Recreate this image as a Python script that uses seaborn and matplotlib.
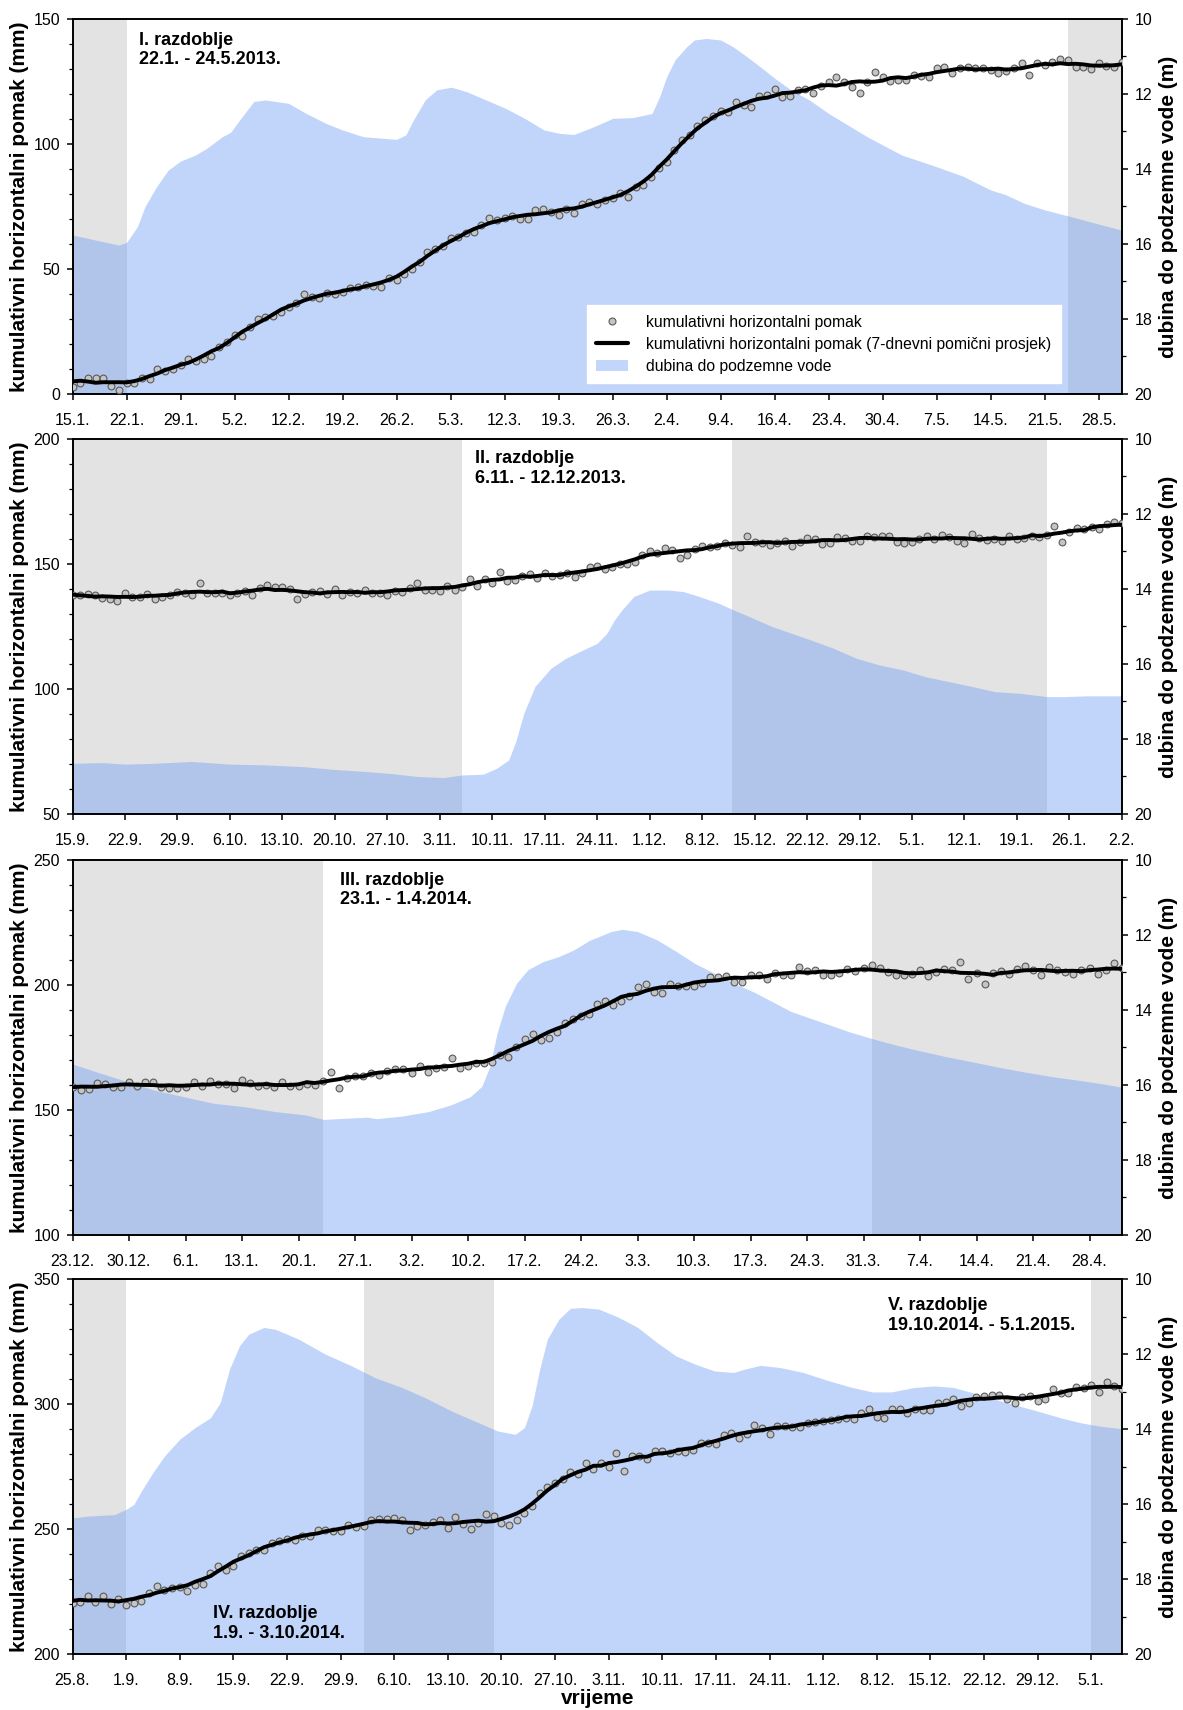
import numpy as np
import pandas as pd
import matplotlib
matplotlib.use("Agg")
import matplotlib.pyplot as plt
import seaborn as sns
from matplotlib.ticker import MultipleLocator
from matplotlib.lines import Line2D
from matplotlib.patches import Patch

sns.set_theme(style="ticks", rc={
    "axes.edgecolor": "black",
    "xtick.color": "black",
    "ytick.color": "black",
    "text.color": "black",
    "axes.labelcolor": "black",
})
plt.rcParams['font.family'] = ['Liberation Sans', 'DejaVu Sans']

PLAVA = '#719df3'
SIVA = '#e3e3e3'

# ---------------- I. razdoblje ----------------
p1_pocetak = "2013-01-15"
p1_kraj = "2013-05-31"
p1_pomak = [2.9, 4.5, 6.3, 6.5, 6.3, 3.3, 1.6, 4.5, 4.3, 6.5,
            5.9, 9.9, 9.3, 9.9, 11.6, 13.9, 13.3, 13.9, 15.2, 18.9,
            20.9, 23.6, 23.2, 26.9, 29.9, 30.9, 31.2, 32.9, 34.7, 36.5,
            40.0, 38.9, 38.5, 40.3, 40.0, 40.9, 42.3, 42.7, 43.6, 43.3,
            42.9, 46.3, 45.6, 48.0, 49.9, 52.7, 56.7, 57.9, 59.2, 62.3,
            62.7, 64.3, 64.9, 67.6, 70.3, 69.6, 70.3, 71.2, 70.0, 70.0,
            73.6, 73.9, 72.9, 71.6, 74.0, 72.3,
            76.0, 76.9, 76.0, 77.6, 78.3, 80.3, 78.7, 82.7, 83.6, 86.7,
            90.3, 92.9, 97.6, 101.6, 103.6, 107.2, 109.6, 111.2, 113.3, 112.9,
            116.7, 115.6, 114.9, 119.3, 119.6, 121.9, 118.9, 119.3, 121.6, 121.9,
            120.5, 123.2, 124.9, 126.7, 124.9, 122.7, 120.5, 124.9, 128.9, 126.7,
            125.2, 125.6, 125.6, 127.6, 127.2, 126.7, 130.3, 130.7, 128.3, 130.3,
            130.9, 130.5, 130.5, 129.6, 128.5, 129.2, 130.3, 132.5, 127.6, 132.3,
            131.6, 132.9, 133.9, 133.6, 130.9, 130.9, 129.9, 132.5, 131.2, 130.9,
            132.9]
p1_dubina_dani = [0, 6, 7, 8.4, 9.4, 10.9, 12.4, 14, 15.9, 17.4,
                  19.4, 20.5, 22, 23.5, 25, 28, 30.3, 32.8, 35, 37.7,
                  42, 43.2, 44.2, 45.7, 47.2, 49.1, 51.1, 53.6, 56.1, 58.6,
                  61.1, 63.1, 65, 67.6, 70, 72.6, 75.1, 76.1, 77, 78.1,
                  79.6, 80.6, 82.1, 84, 85.6, 87.1, 89.1, 91, 93.1, 95.5,
                  98, 100.5, 103, 105, 107.5, 109.4, 112, 115.5, 119, 121,
                  123.4, 126, 129.4, 133, 136]
p1_dubina = [15.76, 16.03, 15.96, 15.54, 15.0, 14.47, 14.03, 13.79, 13.63, 13.45,
             13.14, 13.02, 12.6, 12.2, 12.16, 12.25, 12.52, 12.78, 12.96, 13.14,
             13.21, 13.09, 12.69, 12.16, 11.89, 11.82, 11.94, 12.16, 12.38, 12.65,
             12.96, 13.05, 13.08, 12.87, 12.65, 12.63, 12.52, 12.07, 11.54, 11.09,
             10.74, 10.56, 10.52, 10.56, 10.74, 10.96, 11.27, 11.58, 11.89, 12.16,
             12.52, 12.83, 13.14, 13.36, 13.63, 13.76, 13.94, 14.2, 14.56, 14.69,
             14.92, 15.09, 15.27, 15.47, 15.63]
p1_sivo = [("2013-01-15", "2013-01-22"), ("2013-05-24", "2013-05-31")]

# ---------------- II. razdoblje ----------------
p2_pocetak = "2013-09-15"
p2_kraj = "2014-02-02"
p2_pomak = [137.6, 137.6, 138, 137.6, 136.5, 136, 135.2, 138.5, 136.9, 136.9,
            138, 135.9, 136.9, 137.6, 138.9, 138.5, 137.6, 142.3, 138.5, 138.3,
            138.3, 137.6, 138.3, 139.3, 137.6, 140.3, 141.6, 140.7, 140.9, 139.9,
            136, 138, 138.9, 139.2, 138, 139.9, 137.6, 138.9, 138.5, 139.6,
            138.5, 138.5, 137.6, 139.3, 138.9, 140.5, 142.5, 139.6, 139.6, 139.2,
            141.3, 139.6, 140.7, 143.9, 141.3, 143.9, 142.5, 146.9, 143.3, 143.6,
            145.2, 146, 144.3, 146.5, 145.2, 145.6, 146.3, 144.9, 146.3, 148.7,
            149.2,
            148, 148.9, 149.9, 149.9, 150.9, 153.6, 155.3, 154.3, 156.5, 155.6,
            152.3, 153.6, 155.9, 157.3, 156.9, 157.2, 158.3, 157.6, 156.7, 161.3,
            158.9, 158.3, 157.6, 158.5, 159.3, 157.2, 158.9, 160.3, 159.9, 157.9,
            158.5, 160.9, 160.3, 159.2, 159.2, 161.2, 160.7, 161.2, 161.3, 158.9,
            158.5, 158.7, 159.9, 161.2, 159.9, 161.6, 160.9, 159.2, 158.5, 161.9,
            160.3, 159.6, 159.9, 159.2, 161.2, 159.9, 160.3, 161.2, 160.9, 161.6,
            165.2, 158.9, 162.9, 164.3, 163.9, 164.9, 163.9, 166, 166.7, 166.3]
p2_dubina_dani = [0, 4, 7, 10.7, 15.8, 21, 25.5, 31, 34.7, 39.3,
                  42.9, 46, 49.5, 52, 54.8, 56.6, 58.2, 59.2, 60.2, 61.7,
                  63.8, 65.8, 68.4, 70, 71.3, 72.3, 73.3, 74.9, 77, 79.5,
                  81.5, 83.6, 86.2, 88.2, 90.8, 93.3, 95.9, 98.5, 101.5, 104.6,
                  107.7, 110.8, 113.8, 116.9, 120, 123.1, 126.2, 130, 132.3, 135.4,
                  140]
p2_dubina = [18.65, 18.63, 18.67, 18.65, 18.6, 18.67, 18.69, 18.74, 18.81, 18.87,
             18.93, 19.0, 19.03, 18.96, 18.94, 18.78, 18.56, 18.03, 17.32, 16.6,
             16.12, 15.85, 15.6, 15.45, 15.18, 14.83, 14.56, 14.2, 14.03, 14.03,
             14.07, 14.2, 14.38, 14.56, 14.78, 15.0, 15.18, 15.36, 15.58, 15.85,
             16.03, 16.16, 16.34, 16.47, 16.6, 16.74, 16.78, 16.87, 16.87, 16.85,
             16.85]
p2_sivo = [("2013-09-15", "2013-11-06"), ("2013-12-12", "2014-01-23")]

# ---------------- III. razdoblje ----------------
p3_pocetak = "2013-12-23"
p3_kraj = "2014-05-02"
p3_pomak = [159.3, 158, 158.4, 160.7, 160.3, 159.1, 159.1, 161.1, 159.7, 161.1,
            161.3, 159.1, 158.7, 158.7, 159.3, 161.1, 159.6, 161.7, 160.4, 160.3,
            158.7, 162, 160.7, 159.7, 160, 159.1, 161.1, 159.7, 159.7, 160.4,
            160, 161.7, 165.1, 158.9, 162.9, 163.7, 163.7, 164.9, 164, 165.7,
            166.4, 166.4, 164.9, 167.7, 165.3, 166.7, 167.1, 170.9, 166.7, 167.7,
            168.9, 168.9, 169.3, 172, 171.3, 175.3, 178.3, 180.4, 178, 178.9,
            181.3, 184.9, 186.4, 187.6, 188.4, 192.3,
            193.6, 192, 193.6, 195.6, 199.3, 200.4, 197.3, 196.9, 200.4, 199.7,
            199.7, 199.6, 200.9, 203.3, 203.1, 203.6, 201.3, 201.3, 204, 204,
            202.4, 204.9, 204, 204, 207.1, 205.6, 206, 204, 204, 204.9,
            206.3, 205.7, 206.9, 208, 206.7, 205.3, 204, 204, 204.3, 206,
            203.7, 205.1, 206.3, 206, 209.2, 202.3, 204.7, 200.4, 204.7, 205.6,
            204.4, 206.3, 207.6, 206, 204, 207.1, 206, 205.1, 204.3, 206,
            206.9, 204.3, 206, 208.9, 206.7]
p3_dubina_dani = [0, 2.8, 6.2, 10, 13.7, 17.5, 21.3, 25.1, 28.9, 31.1,
                  33.6, 36.5, 37.7, 40.8, 44.1, 46.9, 49.3, 50.7, 51.7, 52.6,
                  53.6, 55, 56.4, 58.3, 60.2, 62.1, 64, 66.7, 68.1, 70,
                  72.4, 74.8, 77.1, 79.5, 81.9, 84.3, 86.7, 89, 91.4, 93.8,
                  96.2, 99, 101.9, 104.8, 108.1, 111.4, 114.8, 118.1, 121.4, 124.8,
                  127.6, 130]
p3_dubina = [15.44, 15.64, 15.87, 16.13, 16.31, 16.49, 16.58, 16.71, 16.8, 16.92,
             16.89, 16.86, 16.9, 16.83, 16.71, 16.53, 16.31, 16.04, 15.51, 14.62,
             13.91, 13.29, 12.93, 12.71, 12.58, 12.4, 12.15, 11.91, 11.85, 11.91,
             12.13, 12.44, 12.76, 13.02, 13.29, 13.51, 13.78, 14.04, 14.22, 14.4,
             14.58, 14.76, 14.93, 15.08, 15.24, 15.38, 15.53, 15.66, 15.78, 15.88,
             15.97, 16.06]
p3_sivo = [("2013-12-23", "2014-01-23"), ("2014-04-01", "2014-05-02")]

# ---------------- IV. i V. razdoblje ----------------
p4_pocetak = "2014-08-25"
p4_kraj = "2015-01-09"
p4_pomak = [220.4, 220.7, 223.4, 220.7, 223.4, 220, 222, 219.8, 220.4, 221.1,
            224.4, 227.1, 225.8, 226.4, 226.8, 225.4, 227.8, 228.2, 232.5, 235.4,
            233.8, 235.1, 239.4, 240.5, 241.8, 241.8, 244.5, 245.1, 246.2, 245.8,
            247.4, 247.1, 249.6, 249.6, 249.2, 249.2, 251.6, 250.9, 251.2, 253.8,
            254.1, 254.1, 254.5, 253.8, 249.6, 251.2, 251.6, 252.9, 253.6, 250.5,
            254.8, 252.2, 250.1, 252.5, 256.2, 255.4, 252.5, 251.8, 253.6, 256.5,
            259.4, 264.5, 266.8, 268.5, 269.9, 272.8, 271.9, 276.5, 274.1, 276.5,
            274.9, 280.5, 273.2, 279.2, 279.2, 278.1, 281.2, 281.2, 280.5, 281.2,
            280.9, 281.6, 284.5, 284.5, 284.1, 287.6, 288.3, 286.5, 287.9, 291.6,
            290.6, 287.9, 291.2, 291.2, 290.8, 291, 292.6, 292.8, 293.2, 293.5,
            294.2, 294.6, 293.9, 296.6, 298.2, 295, 294.3, 297.9, 298.2, 296.3,
            298.2, 297.6, 297.6, 300.6, 300.8, 301.9, 299.2, 300.6, 303, 303.2,
            303.5, 303.5, 301.9, 300.6, 303, 303.2, 301.2, 301.9, 306.2, 304.6,
            304.3, 307, 306.6, 307.5, 304.8, 308.9, 307.3, 306.2]
p4_dubina_dani = [0, 2, 5.5, 7, 8, 9, 10.5, 12, 14, 16,
                  18, 19.3, 20.5, 21.8, 23, 25, 26.5, 29.5, 33, 36.5,
                  39.5, 43, 46, 49.5, 53, 55.5, 57.8, 59, 60, 61,
                  62, 63.5, 65, 66.5, 68.7, 71.3, 73.8, 76.3, 78.8, 81.3,
                  83.8, 86.3, 87.8, 89.8, 92.4, 95.4, 98.4, 101.4, 104.4, 106.9,
                  109.9, 112.5, 115, 117.5, 120.5, 123.5, 126, 129, 131.6, 134.1,
                  137]
p4_dubina = [16.37, 16.32, 16.28, 16.14, 16.01, 15.65, 15.16, 14.72, 14.27, 13.96,
             13.7, 13.29, 12.4, 11.78, 11.47, 11.29, 11.34, 11.6, 12.0, 12.32,
             12.63, 12.89, 13.16, 13.52, 13.83, 14.05, 14.14, 13.96, 13.38, 12.4,
             11.6, 11.07, 10.78, 10.76, 10.8, 11.02, 11.29, 11.69, 12.05, 12.27,
             12.45, 12.49, 12.4, 12.3, 12.36, 12.49, 12.69, 12.87, 13.01, 13.01,
             12.89, 12.85, 12.89, 13.03, 13.21, 13.38, 13.52, 13.7, 13.83, 13.92,
             13.99]
p4_sivo = [("2014-08-25", "2014-09-01"), ("2014-10-02", "2014-10-19"),
           ("2015-01-05", "2015-01-09")]


def crtaj(ax, pocetak, kraj, pomak, dub_dani, dub, sivo, ylim):
    ax2 = ax.twinx()
    ax.set_zorder(ax2.get_zorder() + 1)
    ax.patch.set_visible(False)

    start = pd.Timestamp(pocetak)
    end = pd.Timestamp(kraj)

    for a, b in sivo:
        ax2.axvspan(pd.Timestamp(a), pd.Timestamp(b), color=SIVA, lw=0, zorder=0)
    t_dub = start + pd.to_timedelta(dub_dani, unit="D")
    ax2.fill_between(t_dub, dub, 20, color=PLAVA, alpha=0.43, lw=0, zorder=1)

    df = pd.DataFrame({"datum": pd.date_range(start, periods=len(pomak), freq="D"),
                       "pomak": pomak})
    df["prosjek"] = df["pomak"].rolling(7, center=True, min_periods=1).mean()

    sns.scatterplot(data=df, x="datum", y="pomak", ax=ax, marker="o", s=24,
                    color="#c4c4c4", edgecolor="#5a5a5a", linewidth=0.8, zorder=3)
    sns.lineplot(data=df, x="datum", y="prosjek", ax=ax, color="black",
                 lw=2.8, zorder=4)

    ax.set_xlim(start, end)
    ax.set_ylim(*ylim)
    ax2.set_ylim(20, 10)

    tx = pd.date_range(start, end, freq="7D")
    ax.set_xticks(tx)
    ax.set_xticklabels([f"{d.day}.{d.month}." for d in tx])

    ax.yaxis.set_major_locator(MultipleLocator(50))
    ax.yaxis.set_minor_locator(MultipleLocator(10))
    ax2.yaxis.set_major_locator(MultipleLocator(2))
    ax2.yaxis.set_minor_locator(MultipleLocator(1))

    for a in (ax, ax2):
        a.tick_params(which="major", direction="out", length=4.5, width=1.1,
                      labelsize=11.5, pad=4.5)
        a.tick_params(which="minor", direction="out", length=2.8, width=0.9)
        for s in a.spines.values():
            s.set_linewidth(1.2)
    ax.tick_params(axis="x", which="major", pad=9)
    ax2.tick_params(axis="x", which="both", bottom=False, top=False)

    ax.set_ylabel("kumulativni horizontalni pomak (mm)", fontsize=15,
                  fontweight="bold", labelpad=3)
    ax2.set_ylabel("dubina do podzemne vode (m)", fontsize=15,
                   fontweight="bold", labelpad=5)
    ax.set_xlabel("")
    return ax2


fig = plt.figure(figsize=(11.83, 17.10), dpi=100)
lijevo, sirina, visina = 0.0613, 0.887, 0.2193
dna = [0.7696, 0.524, 0.2778, 0.0327]

paneli = [
    (p1_pocetak, p1_kraj, p1_pomak, p1_dubina_dani, p1_dubina, p1_sivo, (0, 150)),
    (p2_pocetak, p2_kraj, p2_pomak, p2_dubina_dani, p2_dubina, p2_sivo, (50, 200)),
    (p3_pocetak, p3_kraj, p3_pomak, p3_dubina_dani, p3_dubina, p3_sivo, (100, 250)),
    (p4_pocetak, p4_kraj, p4_pomak, p4_dubina_dani, p4_dubina, p4_sivo, (200, 350)),
]

osi = []
for b, p in zip(dna, paneli):
    ax = fig.add_axes([lijevo, b, sirina, visina])
    crtaj(ax, *p)
    osi.append(ax)

natpisi_razdoblja = [
    (0, 0.063, 0.966, "I. razdoblje\n22.1. - 24.5.2013."),
    (1, 0.384, 0.970, "II. razdoblje\n6.11. - 12.12.2013."),
    (2, 0.255, 0.969, "III. razdoblje\n23.1. - 1.4.2014."),
    (3, 0.134, 0.130, "IV. razdoblje\n1.9. - 3.10.2014."),
    (3, 0.777, 0.952, "V. razdoblje\n19.10.2014. - 5.1.2015."),
]
for i, x, y, t in natpisi_razdoblja:
    osi[i].text(x, y, t, transform=osi[i].transAxes, va="top", ha="left",
                fontsize=13, fontweight="bold", linespacing=1.2, zorder=6)

osi[3].set_xlabel("vrijeme", fontsize=15, fontweight="bold", labelpad=1)

rucke = [
    Line2D([], [], marker="o", ls="none", markerfacecolor="#c4c4c4",
           markeredgecolor="#5a5a5a", markeredgewidth=0.8, markersize=5),
    Line2D([], [], color="black", lw=3),
    Patch(facecolor="#c2d5fa", edgecolor="none"),
]
natpisi = ["kumulativni horizontalni pomak",
           "kumulativni horizontalni pomak (7-dnevni pomični prosjek)",
           "dubina do podzemne vode"]
leg = osi[0].legend(rucke, natpisi, loc="lower right", bbox_to_anchor=(0.942, 0.029),
                    frameon=True, fancybox=False, framealpha=1, edgecolor="white",
                    facecolor="white", fontsize=11.3, handlelength=2.0,
                    handletextpad=1.2, labelspacing=0.45, borderaxespad=0,
                    borderpad=0.6)
leg.set_zorder(10)

fig.savefig("out.png", dpi=100)
